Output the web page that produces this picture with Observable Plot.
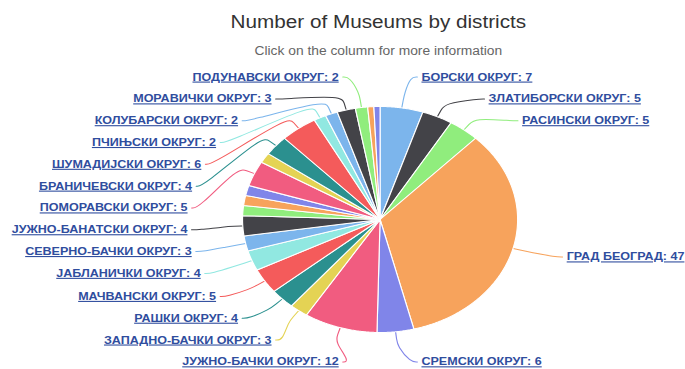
<!DOCTYPE html>
<html>
<head>
<meta charset="utf-8">
<script src="https://cdn.jsdelivr.net/npm/d3@7"></script>
<script src="https://cdn.jsdelivr.net/npm/@observablehq/plot@0.6"></script>
<style>
html, body { margin: 0; padding: 0; background: #fff; }
#wrap { position: relative; width: 596px; height: 369px; transform: scaleX(1.15); transform-origin: 0 0; font-family: "Liberation Sans", Arial, sans-serif; overflow: visible; }
#title { position: absolute; left: 0; width: 658px; top: 12px; text-align: center; font-size: 18px; color: #333; white-space: nowrap; }
#subtitle { position: absolute; left: 0; width: 658px; top: 44px; text-align: center; font-size: 12px; color: #666; white-space: nowrap; }
#chart { position: absolute; left: 0; top: 64px; }
#chart svg { overflow: visible; }
#chart g[aria-label="text"] text { text-decoration: underline; }
</style>
</head>
<body>
<div id="wrap">
  <div id="title"></div>
  <div id="subtitle"></div>
  <div id="chart"></div>
</div>
<script>
// ---- data ----
const titleText = "Number of Museums by districts";
const subtitleText = "Click on the column for more information";
const districts = [
  "БОРСКИ ОКРУГ", "ЗЛАТИБОРСКИ ОКРУГ", "РАСИНСКИ ОКРУГ", "ГРАД БЕОГРАД", "СРЕМСКИ ОКРУГ",
  "ЈУЖНО-БАЧКИ ОКРУГ", "ЗАПАДНО-БАЧКИ ОКРУГ", "РАШКИ ОКРУГ", "МАЧВАНСКИ ОКРУГ", "ЈАБЛАНИЧКИ ОКРУГ",
  "СЕВЕРНО-БАЧКИ ОКРУГ", "ЈУЖНО-БАНАТСКИ ОКРУГ", "СРЕДЊЕ-БАНАТСКИ ОКРУГ", "СЕВЕРНО-БАНАТСКИ ОКРУГ", "НИШАВСКИ ОКРУГ",
  "ПОМОРАВСКИ ОКРУГ", "ЗАЈЕЧАРСКИ ОКРУГ", "БРАНИЧЕВСКИ ОКРУГ", "ШУМАДИЈСКИ ОКРУГ", "ПЧИЊСКИ ОКРУГ",
  "КОЛУБАРСКИ ОКРУГ", "МОРАВИЧКИ ОКРУГ", "ПОДУНАВСКИ ОКРУГ", "ТОПЛИЧКИ ОКРУГ", "ПИРОТСКИ ОКРУГ"
];
const museums = [7, 5, 5, 47, 6, 12, 3, 4, 5, 4, 3, 4, 2, 2, 2, 5, 2, 4, 6, 2, 2, 3, 2, 1, 1];
const hiddenLabels = ["СРЕДЊЕ-БАНАТСКИ ОКРУГ", "СЕВЕРНО-БАНАТСКИ ОКРУГ", "НИШАВСКИ ОКРУГ", "ЗАЈЕЧАРСКИ ОКРУГ", "ТОПЛИЧКИ ОКРУГ", "ПИРОТСКИ ОКРУГ"];

// ---- style / layout ----
const palette = ["#7cb5ec", "#434348", "#90ed7d", "#f7a35c", "#8085e9", "#f15c80", "#e4d354", "#2b908f", "#f45b5b", "#91e8e1"];
const W = 596, H = 305;
const cx = 330, cy = 155, rx = 119.6, ry = 113;
const aX = 1.404, bY = 1.29, yMax = 1.26, gap = 0.193, pad = 0.03;
const linkColor = "#2f4d9e";

document.getElementById("title").textContent = titleText;
document.getElementById("subtitle").textContent = subtitleText;

const total = d3.sum(museums);
let cum = 0;
const slices = districts.map((name, i) => {
  const a0 = cum / total * 2 * Math.PI;
  cum += museums[i];
  const a1 = cum / total * 2 * Math.PI;
  return {name, value: museums[i], a0, a1, mid: (a0 + a1) / 2, col: palette[i % palette.length]};
});

const piePts = slices.flatMap(s => {
  const n = Math.max(2, Math.ceil((s.a1 - s.a0) / (Math.PI / 360)));
  const pts = [{name: s.name, col: s.col, x: 0, y: 0}];
  for (let k = 0; k <= n; k++) {
    const a = s.a0 + (s.a1 - s.a0) * k / n;
    pts.push({name: s.name, col: s.col, x: Math.sin(a), y: Math.cos(a)});
  }
  pts.push({name: s.name, col: s.col, x: 0, y: 0});
  return pts;
});

const shown = slices.filter(s => !hiddenLabels.includes(s.name));
function layout(side) {
  const items = shown
    .filter(s => side === "right" ? s.mid < Math.PI : s.mid >= Math.PI)
    .map(s => ({...s, ly: Math.max(-yMax, Math.min(yMax, bY * Math.cos(s.mid)))}))
    .sort((a, b) => b.ly - a.ly);
  for (let i = 1; i < items.length; i++) items[i].ly = Math.min(items[i].ly, items[i - 1].ly - gap);
  const n = items.length;
  if (n) items[n - 1].ly = Math.max(items[n - 1].ly, -yMax);
  for (let i = n - 2; i >= 0; i--) items[i].ly = Math.max(items[i].ly, items[i + 1].ly + gap);
  items.forEach(d => {
    d.side = side;
    d.lx = (side === "right" ? 1 : -1) * aX * Math.sqrt(Math.max(0, 1 - (d.ly / bY) ** 2));
    d.label = `${d.name}: ${d.value}`;
  });
  return items;
}
const leftLabels = layout("left");
const rightLabels = layout("right");

const connPts = [...leftLabels, ...rightLabels].flatMap(d => {
  const s = d.side === "right" ? -1 : 1;
  const ux = Math.sin(d.mid), uy = Math.cos(d.mid);
  const p0 = {x: d.lx + s * pad, y: d.ly};
  const p1 = {x: d.lx + s * (pad + 0.05), y: d.ly};
  const c2 = {x: 1.13 * ux, y: 1.13 * uy};
  const b = {x: 1.06 * ux, y: 1.06 * uy};
  const t = {x: 1.0 * ux, y: 1.0 * uy};
  return [p0, p1, c2, b, t, t].map(p => ({...p, name: d.name, col: d.col}));
});

const chart = Plot.plot({
  width: W,
  height: H,
  margin: 0,
  x: {domain: [-1, 1], range: [cx - rx, cx + rx], axis: null},
  y: {domain: [-1, 1], range: [cy + ry, cy - ry], axis: null},
  color: {type: "identity"},
  style: {fontFamily: "'Liberation Sans', Arial, sans-serif", background: "transparent", overflow: "visible"},
  marks: [
    Plot.line(connPts, {x: "x", y: "y", z: "name", stroke: d => d.col, strokeWidth: 1, curve: "basis"}),
    Plot.line(piePts, {x: "x", y: "y", z: "name", fill: d => d.col, stroke: "white", strokeWidth: 1, strokeLinejoin: "round"}),
    Plot.text(leftLabels, {x: "lx", y: "ly", text: "label", textAnchor: "end", fill: linkColor, fontWeight: "bold", fontSize: 10.9}),
    Plot.text(rightLabels, {x: "lx", y: "ly", text: "label", textAnchor: "start", fill: linkColor, fontWeight: "bold", fontSize: 10.9})
  ]
});
document.getElementById("chart").appendChild(chart);
</script>
</body>
</html>
